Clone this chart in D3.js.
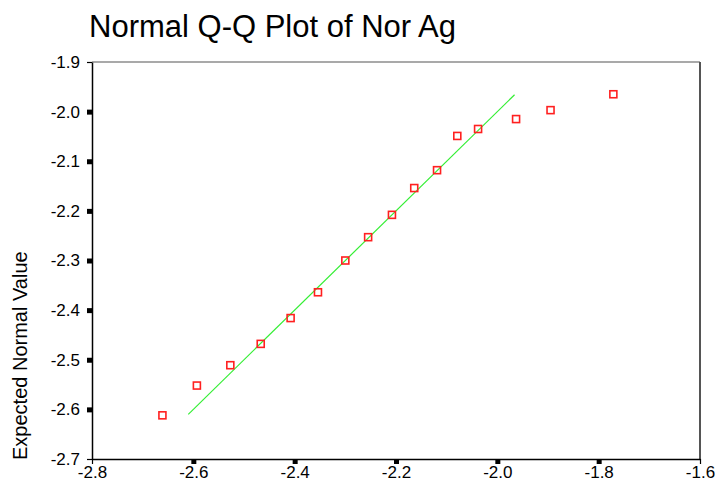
<!DOCTYPE html>
<html>
<head>
<meta charset="utf-8">
<script src="https://cdn.jsdelivr.net/npm/d3@7"></script>
<style>
  body { margin: 0; background: #fff; }
  text { font-family: "Liberation Sans", Arial, sans-serif; fill: #000; }
</style>
</head>
<body>
<script>
const w = 715
const h = 482

// Observed values (x) and expected normal values (y)
const observed = [-2.661, -2.593, -2.527, -2.467, -2.408, -2.354, -2.300, -2.255, -2.208, -2.164, -2.119, -2.079, -2.038, -1.963, -1.895, -1.771]
const expected = [-2.612, -2.552, -2.511, -2.468, -2.416, -2.364, -2.300, -2.253, -2.208, -2.154, -2.118, -2.049, -2.035, -2.015, -1.997, -1.965]

// reference line y = x
const lineX = [-2.61, -1.966]

const xTicks = [-2.8, -2.6, -2.4, -2.2, -2.0, -1.8, -1.6]
const yTicks = [-2.7, -2.6, -2.5, -2.4, -2.3, -2.2, -2.1, -2.0, -1.9]

const svg = d3.select("body")
              .append("svg")
              .attr("width", w)
              .attr("height", h)

const x = d3.scaleLinear().domain([-2.8, -1.6]).range([92, 700])
const y = d3.scaleLinear().domain([-2.7, -1.9]).range([459, 62])

// title
svg.append("text")
    .attr("x", 89)
    .attr("y", 37)
    .style("font-size", "31px")
    .text("Normal Q-Q Plot of Nor Ag")

// frame - top and right are grey
svg.append("line")
    .attr("x1", x(-2.8)).attr("x2", x(-1.6))
    .attr("y1", y(-1.9)).attr("y2", y(-1.9))
    .attr("stroke", "#555").attr("stroke-width", 1.2)
svg.append("line")
    .attr("x1", x(-1.6)).attr("x2", x(-1.6))
    .attr("y1", y(-1.9)).attr("y2", y(-2.7))
    .attr("stroke", "#555").attr("stroke-width", 2)

const xAxis = d3.axisBottom(x)
                .tickValues(xTicks)
                .tickFormat(d3.format(".1f"))
                .tickSizeInner(5)
                .tickSizeOuter(0)
                .tickPadding(2)

const yAxis = d3.axisLeft(y)
                .tickValues(yTicks)
                .tickFormat(d3.format(".1f"))
                .tickSizeInner(5)
                .tickSizeOuter(0)
                .tickPadding(7)

const gx = svg.append("g")
    .attr("transform", `translate(0, ${y(-2.7)})`)
    .call(xAxis)
const gy = svg.append("g")
    .attr("transform", `translate(${x(-2.8)}, 0)`)
    .call(yAxis)

;[gx, gy].forEach(g => {
  g.select(".domain").attr("stroke", "#000").attr("stroke-width", 1.5)
  g.selectAll(".tick text")
    .style("font-size", "17px")
    .attr("fill", "#000")
    .text(d => d3.format(".1f")(d).replace("−", "-"))
  // end ticks are thin, inner ticks are small filled squares
  g.selectAll(".tick line")
    .attr("stroke", "#000")
    .attr("stroke-width", (d, i, n) => (i === 0 || i === n.length - 1) ? 1.2 : 5)
})
gx.selectAll(".tick text").attr("dy", "0.72em")

// y axis label
svg.append("text")
    .attr("transform", `translate(27, ${y(-2.7) + 1}) rotate(-90)`)
    .style("font-size", "20px")
    .attr("fill", "#222")
    .text("Expected Normal Value")

// reference line
svg.append("line")
    .attr("x1", x(lineX[0])).attr("y1", y(lineX[0]))
    .attr("x2", x(lineX[1])).attr("y2", y(lineX[1]))
    .attr("stroke", "#33ee33")
    .attr("stroke-width", 1.2)

// points
svg.selectAll("rect.pt")
    .data(observed)
    .enter()
    .append("rect")
      .attr("class", "pt")
      .attr("x", d => x(d) - 3.5)
      .attr("y", (d, i) => y(expected[i]) - 3.5)
      .attr("width", 7)
      .attr("height", 7)
      .attr("fill", "none")
      .attr("stroke", "#ff2020")
      .attr("stroke-width", 1.6)
</script>
</body>
</html>
